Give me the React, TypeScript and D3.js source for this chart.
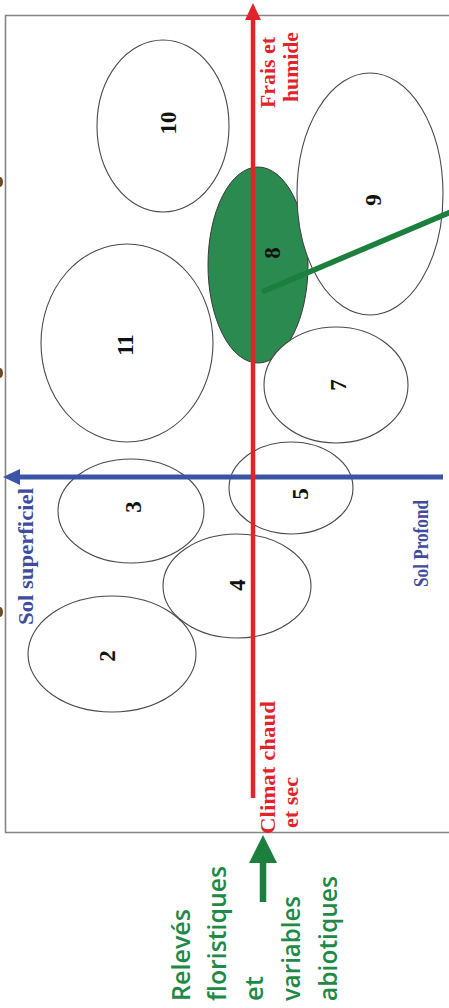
import React from "react";
import * as d3 from "d3";

// Groups (relevés) in ordination units: x = soil axis (− superficiel / + profond), y = climate axis (− chaud et sec / + frais et humide)
const groupIds = ["11", "10", "9", "7", "3", "5", "4", "2"];
const groupX = [-2.52, -1.8, 2.34, 1.66, -2.44, 0.76, -0.32, -2.82];
const groupY = [2.68, 7.02, 5.66, 1.84, -0.68, -0.22, -2.18, -3.54];
const groupRx = [1.72, 1.32, 1.46, 1.44, 1.46, 1.24, 1.48, 1.68];
const groupRy = [1.98, 1.72, 2.42, 1.16, 1.04, 0.92, 1.04, 1.16];
const labelX = [-2.56, -1.7, 2.4, 1.7, -2.4, 0.94, -0.32, -2.92];
const labelY = [2.64, 7.08, 5.54, 1.84, -0.6, -0.34, -2.16, -3.58];

// Highlighted group
const highlightId = "8";
const highlight = { x: 0.1, y: 4.24, rx: 1.0, ry: 1.96, lx: 0.38, ly: 4.48 };

// Axes extents (units)
const climateAxis = [-6.42, 9.48];
const soilAxis = [3.8, -5.0];
// Vector of the sample (green line)
const vectorFrom = [0.18, 3.7];
const vectorTo = [4.4, 5.49];
// Edge marks (cut labels of outer axis)
const edgeMarks = [5.9, 2.08, -2.7];

const climateLabelsTop = ["Frais et", "humide"];
const climateLabelsBottom = ["Climat chaud", "et sec"];
const soilLabelLeft = "Sol superficiel";
const soilLabelRight = "Sol Profond";
const inputLines = ["Relevés", "floristiques", "et", "variables", "abiotiques"];

const sx = d3.scaleLinear().domain([-5, 4]).range([3, 453]);
const sy = d3.scaleLinear().domain([-10, 9]).range([977, 27]);
const ux = (v: number) => sx(v) - sx(0);
const uy = (v: number) => sy(0) - sy(v);

const RED = "#e0242a";
const BLUE = "#3a55a6";
const BLUE_TXT = "#3f4c9e";
const GREEN_TXT = "#1f8a46";
const GREEN_FILL = "#2a8a50";
const GREEN_LINE = "#1b7f3e";
const SERIF = "'Liberation Serif', 'Times New Roman', serif";
const SANS = "'Open Sans', Lato, sans-serif";

function VText(props: {
  x: number; y: number; text: string; size: number; color: string; family: string;
  weight?: string | number; len?: number; anchor?: string; baseline?: string;
}) {
  const { x, y, text, size, color, family, weight = "bold", len, anchor = "start", baseline } = props;
  return (
    <text
      transform={`translate(${x},${y}) rotate(-90)`}
      fontSize={size}
      fontFamily={family}
      fontWeight={weight}
      fill={color}
      textAnchor={anchor}
      dominantBaseline={baseline}
      textLength={len}
      lengthAdjust={len ? "spacingAndGlyphs" : undefined}
    >
      {text}
    </text>
  );
}

export default function App() {
  const W = 449;
  const H = 1008;
  const redPath = d3.path();
  const rx0 = sx(0);
  redPath.moveTo(rx0, sy(climateAxis[1]));
  redPath.lineTo(rx0 - 8, sy(climateAxis[1]) + 17);
  redPath.lineTo(rx0 + 8, sy(climateAxis[1]) + 17);
  redPath.closePath();

  const bluePath = d3.path();
  const by0 = sy(0);
  bluePath.moveTo(sx(soilAxis[1]), by0);
  bluePath.lineTo(sx(soilAxis[1]) + 17, by0 - 8);
  bluePath.lineTo(sx(soilAxis[1]) + 17, by0 + 8);
  bluePath.closePath();

  const gx = sx(0.2);
  const gTip = sy(-7.16);
  const greenHead = d3.path();
  greenHead.moveTo(gx, gTip);
  greenHead.lineTo(gx - 14, gTip + 28);
  greenHead.lineTo(gx + 14, gTip + 28);
  greenHead.closePath();

  const inputBase = [190, 226, 263, 300, 337];
  const inputLen = [92, 135, 25, 105, 125];

  return (
    <svg width={W} height={H} style={{ position: "absolute", left: 0, top: 0, background: "#fff" }}>
      <rect x={0} y={0} width={W} height={H} fill="#fff" />
      {/* frame */}
      <path d={`M 470 15.5 H 5.5 V 832.5 H 470`} fill="none" stroke="#858585" strokeWidth={1.6} />
      {/* cut edge marks */}
      {edgeMarks.map((m, i) => (
        <ellipse key={i} cx={0} cy={sy(m)} rx={3} ry={5} fill="#6e4a28" />
      ))}

      {/* highlighted group 8 */}
      <ellipse
        cx={sx(highlight.x)} cy={sy(highlight.y)} rx={ux(highlight.rx)} ry={uy(highlight.ry)}
        fill={GREEN_FILL} stroke="#3a3a3a" strokeWidth={1}
      />
      {/* white fills */}
      {groupIds.map((id, i) => (
        <ellipse key={"f" + id} cx={sx(groupX[i])} cy={sy(groupY[i])} rx={ux(groupRx[i])} ry={uy(groupRy[i])} fill="#fff" stroke="none" />
      ))}
      {/* outlines */}
      {groupIds.map((id, i) => (
        <ellipse key={"s" + id} cx={sx(groupX[i])} cy={sy(groupY[i])} rx={ux(groupRx[i])} ry={uy(groupRy[i])} fill="none" stroke="#4a4a4a" strokeWidth={1.1} />
      ))}

      {/* blue soil axis */}
      <line x1={sx(soilAxis[0])} y1={by0} x2={sx(soilAxis[1]) + 12} y2={by0} stroke={BLUE} strokeWidth={5} />
      <path d={bluePath.toString()} fill={BLUE} />

      {/* red climate axis */}
      <line x1={rx0} y1={sy(climateAxis[0])} x2={rx0} y2={sy(climateAxis[1]) + 12} stroke={RED} strokeWidth={4.5} />
      <path d={redPath.toString()} fill={RED} />

      {/* group labels */}
      {groupIds.map((id, i) => (
        <VText key={"l" + id} x={sx(labelX[i])} y={sy(labelY[i])} text={id} size={23} color="#111" family={SERIF} anchor="middle" baseline="central" />
      ))}
      <VText x={sx(highlight.lx)} y={sy(highlight.ly)} text={highlightId} size={23} color="#111" family={SERIF} anchor="middle" baseline="central" />

      {/* green vector */}
      <line x1={sx(vectorFrom[0])} y1={sy(vectorFrom[1])} x2={sx(vectorTo[0])} y2={sy(vectorTo[1])} stroke={GREEN_LINE} strokeWidth={5.5} />

      {/* axis labels */}
      <VText x={275} y={108} text={climateLabelsTop[0]} size={22} color={RED} family={SERIF} len={71} />
      <VText x={298} y={102} text={climateLabelsTop[1]} size={22} color={RED} family={SERIF} len={70} />
      <VText x={275} y={834} text={climateLabelsBottom[0]} size={22} color={RED} family={SERIF} len={133} />
      <VText x={298} y={828} text={climateLabelsBottom[1]} size={22} color={RED} family={SERIF} len={51} />
      <VText x={33} y={625} text={soilLabelLeft} size={21} color={BLUE_TXT} family={SERIF} len={137} />
      <VText x={428} y={587} text={soilLabelRight} size={21} color={BLUE_TXT} family={SERIF} len={87} />

      {/* input arrow */}
      <line x1={gx} y1={sy(-8.5)} x2={gx} y2={gTip + 20} stroke={GREEN_LINE} strokeWidth={6.5} />
      <path d={greenHead.toString()} fill={GREEN_LINE} />

      {inputLines.map((t, i) => (
        <VText key={t} x={inputBase[i]} y={1001} text={t} size={26} color={GREEN_TXT} family={SANS} weight={600} len={inputLen[i]} />
      ))}
    </svg>
  );
}
